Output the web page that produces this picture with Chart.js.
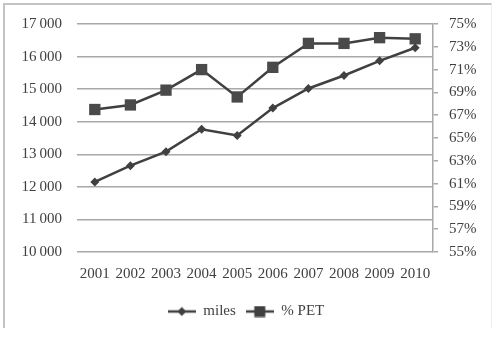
<!DOCTYPE html>
<html>
<head>
<meta charset="utf-8">
<script src="https://cdn.jsdelivr.net/npm/chart.js@4/dist/chart.umd.min.js"></script>
<style>
  body { margin: 0; background: #fff; }
  #frame {
    position: absolute; left: 3px; top: 3px; width: 486px; height: 323px;
    border-top: 2px solid #c4c4c4; border-left: 2px solid #c4c4c4; border-right: 1px solid #eee;
  }
  #chart { position: absolute; left: 0; top: 0; }
</style>
</head>
<body>
<div id="frame"></div>
<canvas id="chart" width="492" height="339"></canvas>
<script>
const years = ['2001', '2002', '2003', '2004', '2005', '2006', '2007', '2008', '2009', '2010'];
const miles = [12150, 12650, 13080, 13770, 13580, 14420, 15020, 15420, 15870, 16270];
const petShare = [67.5, 67.9, 69.2, 71.0, 68.6, 71.2, 73.3, 73.3, 73.8, 73.7];
const seriesNames = ['miles', '% PET'];

const ink = '#404040';
const gridGray = '#a8a8a8';
const serif = "'Liberation Serif', 'Times New Roman', serif";

// little line+marker icons for the legend
function legendIcon(shape) {
    const c = document.createElement('canvas');
    c.width = 28; c.height = 12;
    const g = c.getContext('2d');
    g.strokeStyle = ink; g.lineWidth = 2.5;
    g.beginPath(); g.moveTo(0, 6); g.lineTo(28, 6); g.stroke();
    g.fillStyle = ink;
    if (shape === 'diamond') {
        g.beginPath(); g.moveTo(14, 1.5); g.lineTo(18.5, 6); g.lineTo(14, 10.5); g.lineTo(9.5, 6); g.closePath(); g.fill();
    } else {
        g.fillRect(8.5, 0.5, 11, 11);
    }
    return c;
}
const icons = [legendIcon('diamond'), legendIcon('square')];

const ctx = document.getElementById('chart').getContext('2d');
new Chart(ctx, {
    type: 'line',
    data: {
        labels: years,
        datasets: [{
            label: seriesNames[0],
            data: miles,
            yAxisID: 'y',
            borderColor: ink,
            backgroundColor: ink,
            borderWidth: 2.5,
            pointStyle: 'rectRot',
            pointRadius: 4.5,
            pointBorderWidth: 0,
            tension: 0
        }, {
            label: seriesNames[1],
            data: petShare,
            yAxisID: 'y1',
            borderColor: ink,
            backgroundColor: '#4a4a4a',
            borderWidth: 2.5,
            pointStyle: 'rect',
            pointRadius: 8,
            pointBorderWidth: 0,
            tension: 0
        }]
    },
    options: {
        responsive: false,
        animation: false,
        layout: { padding: { left: 0, right: 0, top: 19, bottom: 10 } },
        plugins: {
            tooltip: { enabled: false },
            legend: {
                position: 'bottom',
                labels: {
                    usePointStyle: true,
                    pointStyleWidth: 28,
                    boxHeight: 12,
                    padding: 10,
                    color: ink,
                    font: { family: serif, size: 15 },
                    generateLabels: chart => {
                        const items = Chart.defaults.plugins.legend.labels.generateLabels(chart);
                        items.forEach((item, i) => { item.pointStyle = icons[i]; });
                        return items;
                    }
                }
            }
        },
        scales: {
            x: {
                offset: true,
                grid: { display: false, drawTicks: false },
                border: { display: false },
                ticks: { color: ink, padding: 13, maxRotation: 0, font: { family: serif, size: 15 } },
                afterFit: scale => { scale.height = 42; }
            },
            y: {
                position: 'left',
                min: 10000,
                max: 17000,
                ticks: {
                    stepSize: 1000,
                    padding: 15,
                    color: ink,
                    font: { family: serif, size: 15 },
                    callback: v => Math.floor(v / 1000) + '\u2009000'
                },
                grid: { color: gridGray, lineWidth: 1.5, drawTicks: false },
                border: { display: false },
                afterFit: scale => { scale.width = 77; }
            },
            y1: {
                position: 'right',
                min: 55,
                max: 75,
                ticks: {
                    stepSize: 2,
                    padding: 11,
                    color: ink,
                    font: { family: serif, size: 15 },
                    callback: v => v + '%'
                },
                grid: { drawOnChartArea: false, color: gridGray, tickLength: 5, lineWidth: 1.5 },
                border: { display: true, color: gridGray, width: 1.5 },
                afterFit: scale => { scale.width = 59; }
            }
        }
    }
});
</script>
</body>
</html>
